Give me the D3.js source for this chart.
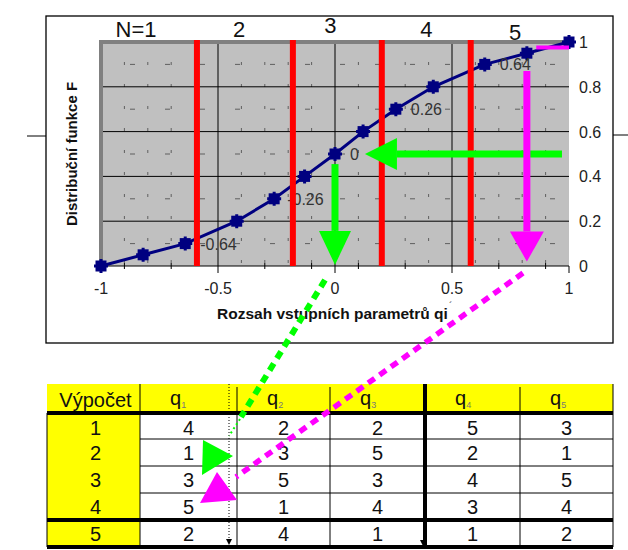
<!DOCTYPE html>
<html><head><meta charset="utf-8">
<script src="https://cdn.jsdelivr.net/npm/d3@7"></script>
<style>body{margin:0;background:#fff}svg{display:block;font-family:Arial,"Liberation Sans",sans-serif}</style>
</head><body>
<svg id="c" width="628" height="550"></svg>
<script>
// ---- data ----
const xVals = [-1, -0.82, -0.64, -0.42, -0.26, -0.13, 0, 0.12, 0.26, 0.42, 0.64, 0.82, 1];
const fVals = [0, 0.05, 0.1, 0.2, 0.3, 0.4, 0.5, 0.6, 0.7, 0.8, 0.9, 0.95, 1];
const labelIdx = [2, 4, 6, 8, 10];
const labelTexts = ["-0.64", "-0.26", "0", "0.26", "0.64"];
const redBounds = [-0.59, -0.18, 0.2, 0.58];
const segLabels = ["N=1", "2", "3", "4", "5"];
const segLabelX = [-0.85, -0.41, -0.02, 0.39, 0.77];
const xTicks = [-1, -0.5, 0, 0.5, 1];
const xTickLabels = ["-1", "-0.5", "0", "0.5", "1"];
const xMinorTicks = [-0.9, -0.7, -0.3, -0.1, 0.1, 0.3, 0.7, 0.9];
const yTicks = [0, 0.2, 0.4, 0.6, 0.8, 1];
const yTickLabels = ["0", "0.2", "0.4", "0.6", "0.8", "1"];
const tableHeaders = ["Výpočet", "q", "q", "q", "q", "q"];
const headerSubs = ["", "1", "2", "3", "4", "5"];
const runs = ["1", "2", "3", "4", "5"];
const q1 = [4, 1, 3, 5, 2];
const q2 = [2, 3, 5, 1, 4];
const q3 = [2, 5, 3, 4, 1];
const q4 = [5, 2, 4, 3, 1];
const q5 = [3, 1, 5, 4, 2];

const svg = d3.select("#c");
const x = d3.scaleLinear([-1, 1], [101, 569]);
const y = d3.scaleLinear([0, 1], [266, 42]);

// outer chart frame
svg.append("rect").attr("x", 46).attr("y", 16).attr("width", 567).attr("height", 327)
  .attr("fill", "#fff").attr("stroke", "#000").attr("stroke-width", 1.3);
svg.append("line").attr("x1", 27).attr("x2", 46).attr("y1", 136).attr("y2", 136).attr("stroke", "#000");
svg.append("line").attr("x1", 613).attr("x2", 628).attr("y1", 135).attr("y2", 135).attr("stroke", "#000");

// plot area
const g = svg.append("g");
g.append("rect").attr("x", x(-1)).attr("y", y(1)).attr("width", x(1) - x(-1)).attr("height", y(0) - y(1)).attr("fill", "#c0c0c0");
// faint minor pattern
d3.range(-0.9, 0.95, 0.1).map(v => +v.toFixed(2)).filter(v => Math.abs(v % 0.5) > 0.01).forEach(v => {
  g.append("line").attr("x1", x(v)).attr("x2", x(v)).attr("y1", y(1)).attr("y2", y(0))
    .attr("stroke", "#000").attr("stroke-width", 1).attr("stroke-dasharray", "3 19").attr("stroke-dashoffset", -20).attr("opacity", 0.5);
});
[0.1, 0.3, 0.5, 0.7, 0.9].forEach(v => {
  g.append("line").attr("x1", x(-1)).attr("x2", x(1)).attr("y1", y(v)).attr("y2", y(v))
    .attr("stroke", "#000").attr("stroke-width", 1).attr("stroke-dasharray", "5 30").attr("stroke-dashoffset", -29).attr("opacity", 0.5);
});
// gridlines
[0.2, 0.4, 0.6, 0.8].forEach(v => g.append("line").attr("x1", x(-1)).attr("x2", x(1)).attr("y1", y(v)).attr("y2", y(v)).attr("stroke", "#000").attr("stroke-width", 1));
[-0.5, 0, 0.5].forEach(v => g.append("line").attr("x1", x(v)).attr("x2", x(v)).attr("y1", y(1)).attr("y2", y(0)).attr("stroke", "#000").attr("stroke-width", 1));
// 3D gray edges
g.append("rect").attr("x", x(-1) - 2).attr("y", y(1) - 2).attr("width", x(1) - x(-1) + 2).attr("height", 4).attr("fill", "#808080");
g.append("rect").attr("x", x(-1) - 2).attr("y", y(1) - 2).attr("width", 4).attr("height", y(0) - y(1) + 2).attr("fill", "#808080");

// x axis
g.append("line").attr("x1", x(-1)).attr("x2", x(1)).attr("y1", y(0)).attr("y2", y(0)).attr("stroke", "#000").attr("stroke-width", 1.2);
xTicks.forEach(v => g.append("line").attr("x1", x(v)).attr("x2", x(v)).attr("y1", y(0)).attr("y2", y(0) + 7).attr("stroke", "#000"));
xMinorTicks.forEach(v => g.append("line").attr("x1", x(v)).attr("x2", x(v)).attr("y1", y(0) - 3).attr("y2", y(0) + 3).attr("stroke", "#000"));
xTicks.forEach((v, i) => svg.append("text").attr("x", x(v)).attr("y", 294).attr("text-anchor", "middle")
  .attr("font-size", 16).attr("fill", "#222").text(xTickLabels[i]));
// right y labels
yTicks.forEach((v, i) => svg.append("text").attr("x", 579).attr("y", y(v) + 6).attr("font-size", 16).attr("fill", "#222").text(yTickLabels[i]));

// axis titles
svg.append("text").attr("x", 217).attr("y", 319).attr("font-size", 15.5).attr("font-weight", "bold").attr("fill", "#111").text("Rozsah vstupních parametrů qi");
svg.append("text").attr("x", 449).attr("y", 310).attr("font-size", 10).attr("fill", "#333").text("´");
svg.append("text").attr("transform", "translate(77,154) rotate(-90)").attr("text-anchor", "middle")
  .attr("font-size", 15).attr("font-weight", "bold").attr("fill", "#111").text("Distribuční funkce F");

// segment labels
const segBase = [37, 37, 33, 37, 40];
segLabels.forEach((t, i) => svg.append("text").attr("x", x(segLabelX[i])).attr("y", segBase[i]).attr("text-anchor", "middle")
  .attr("font-size", 22).attr("fill", "#111").text(t));

// curve
const pts = xVals.map((v, i) => [v, fVals[i]]);
g.append("path").attr("d", d3.line().x(d => x(d[0])).y(d => y(d[1]))(pts))
  .attr("fill", "none").attr("stroke", "#000080").attr("stroke-width", 3);
const mk = g.selectAll("g.mk").data(pts).join("g").attr("transform", d => `translate(${x(d[0])},${y(d[1])})`);
mk.append("rect").attr("x", -5.5).attr("y", -5.5).attr("width", 11).attr("height", 11).attr("fill", "#000080");
mk.append("path").attr("d", "M-7,0H7M0,-7V7").attr("stroke", "#000080").attr("stroke-width", 3);

// point labels
labelIdx.forEach((k, i) => svg.append("text").attr("x", x(xVals[k]) + (i === 1 ? 13 : 15)).attr("y", y(fVals[k]) + 6)
  .attr("font-size", 16).attr("fill", "#333").text(labelTexts[i]));

// red boundaries
redBounds.forEach(v => svg.append("rect").attr("x", x(v) - 3).attr("y", y(1) - 2).attr("width", 6).attr("height", y(0) - y(1) + 2).attr("fill", "#ff0000"));

// arrows
function arrowH(x1, x2, yy, col, w, head, hw) {
  const dir = Math.sign(x2 - x1);
  svg.append("line").attr("x1", x1).attr("x2", x2 - dir * head).attr("y1", yy).attr("y2", yy).attr("stroke", col).attr("stroke-width", w);
  svg.append("path").attr("d", `M${x2},${yy}L${x2 - dir * head},${yy - hw}L${x2 - dir * head},${yy + hw}Z`).attr("fill", col);
}
function arrowV(xx, y1, y2, col, w, head, hw) {
  svg.append("line").attr("x1", xx).attr("x2", xx).attr("y1", y1).attr("y2", y2 - head).attr("stroke", col).attr("stroke-width", w);
  svg.append("path").attr("d", `M${xx},${y2}L${xx - hw},${y2 - head}L${xx + hw},${y2 - head}Z`).attr("fill", col);
}
const green = "#00ff00", mag = "#ff00ff";
arrowH(x(0.97), x(0.128), y(0.5), green, 7, 32, 16);
arrowV(x(0), y(0.455), y(0.005), green, 7, 34, 16);
svg.append("line").attr("x1", x(0.86)).attr("x2", x(1)).attr("y1", y(0.975)).attr("y2", y(0.975)).attr("stroke", mag).attr("stroke-width", 4);
arrowV(x(0.82), y(0.87), y(0.02), mag, 7, 30, 17);

// ---- table ----
const colEdges = [47, 140, 237, 330, 425, 520, 613];
const rowEdges = [384, 413, 439, 466, 493, 520, 547];
const tg = svg.append("g");
tg.append("rect").attr("x", colEdges[0]).attr("y", rowEdges[0]).attr("width", colEdges[6] - colEdges[0]).attr("height", rowEdges[1] - rowEdges[0]).attr("fill", "#ffff00");
tg.append("rect").attr("x", colEdges[0]).attr("y", rowEdges[1]).attr("width", colEdges[1] - colEdges[0]).attr("height", rowEdges[6] - rowEdges[1]).attr("fill", "#ffff00");
[2, 3, 4].forEach(r => tg.append("line").attr("x1", colEdges[1]).attr("x2", colEdges[6]).attr("y1", rowEdges[r]).attr("y2", rowEdges[r]).attr("stroke", "#000").attr("stroke-width", 1));
[1, 2, 3, 5, 6].forEach(c => tg.append("line").attr("x1", colEdges[c]).attr("x2", colEdges[c]).attr("y1", rowEdges[0] + (c === 1 || c === 6 ? 0 : 3)).attr("y2", rowEdges[6]).attr("stroke", "#000").attr("stroke-width", 1));
tg.append("line").attr("x1", colEdges[0]).attr("x2", colEdges[0]).attr("y1", rowEdges[1]).attr("y2", rowEdges[6]).attr("stroke", "#000").attr("stroke-width", 1);
tg.append("line").attr("x1", colEdges[4]).attr("x2", colEdges[4]).attr("y1", rowEdges[0]).attr("y2", rowEdges[6]).attr("stroke", "#000").attr("stroke-width", 4);
[1, 5, 6].forEach(r => tg.append("line").attr("x1", colEdges[0]).attr("x2", colEdges[6]).attr("y1", rowEdges[r]).attr("y2", rowEdges[r]).attr("stroke", "#000").attr("stroke-width", 4));
tg.append("text").attr("x", (colEdges[0] + colEdges[1]) / 2 + 2).attr("y", 407).attr("text-anchor", "middle").attr("font-size", 20).attr("fill", "#111").text(tableHeaders[0]);
for (let c = 1; c < 6; c++) {
  const t = tg.append("text").attr("x", colEdges[c] + 30).attr("y", 405).attr("font-size", 20).attr("fill", "#111");
  t.append("tspan").text(tableHeaders[c]);
  t.append("tspan").attr("font-size", 9).attr("dy", 3).attr("fill", "#777").text(headerSubs[c]);
}
const cols = [runs, q1, q2, q3, q4, q5];
const rowMid = [428, 453, 480, 507, 534];
cols.forEach((arr, c) => arr.forEach((v, r) => tg.append("text").attr("x", (colEdges[c] + colEdges[c + 1]) / 2 + (c === 0 ? 2 : 0)).attr("y", rowMid[r] + 7)
  .attr("text-anchor", "middle").attr("font-size", 20).attr("fill", "#111").text(v)));
tg.append("line").attr("x1", 229).attr("x2", 229).attr("y1", 384).attr("y2", 540).attr("stroke", "#000").attr("stroke-width", 1).attr("stroke-dasharray", "1 2");
tg.append("path").attr("d", "M226,539L232,539L229,545Z").attr("fill", "#000");
tg.append("path").attr("d", "M420,540L426,540L423,546Z").attr("fill", "#000");

// dotted connectors
svg.append("line").attr("x1", 325).attr("y1", 280).attr("x2", 241).attr("y2", 417).attr("stroke", green).attr("stroke-width", 6).attr("stroke-dasharray", "8 6");
svg.append("line").attr("x1", 240).attr("y1", 419).attr("x2", 229).attr("y2", 436).attr("stroke", green).attr("stroke-width", 2).attr("stroke-dasharray", "2 3");
svg.append("path").attr("d", "M203,440L233,456L202,475Z").attr("fill", green);
svg.append("line").attr("x1", 523).attr("y1", 273).attr("x2", 236).attr("y2", 477).attr("stroke", mag).attr("stroke-width", 5.5).attr("stroke-dasharray", "8 6");
svg.append("path").attr("d", "M217,472L237,500L200,503Z").attr("fill", mag);
</script>
</body></html>
